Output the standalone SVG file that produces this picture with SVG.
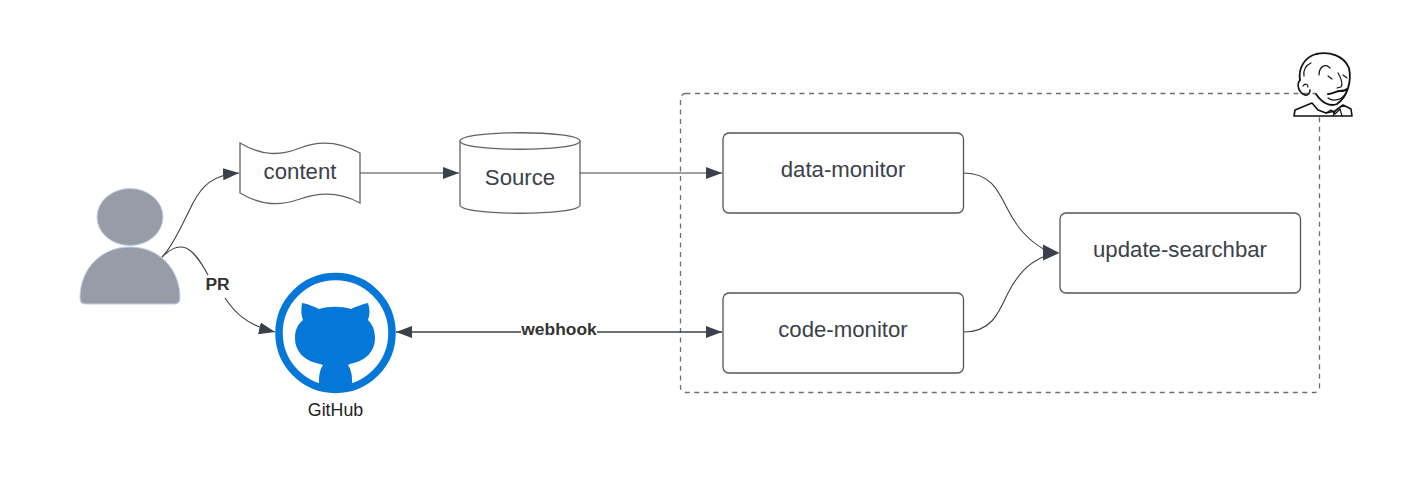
<svg xmlns="http://www.w3.org/2000/svg" width="1419" height="487" viewBox="0 0 1419 487">
<style>
.t{font-family:"Liberation Sans",Arial,sans-serif;fill:#3a414a;text-anchor:middle;font-size:22.2px}
.b{fill:#fff;stroke:#50555e;stroke-width:1.3}
.s{fill:#fff;stroke:#5f646c;stroke-width:1.3}
.c{fill:none;stroke:#3a414a;stroke-width:1.1}
.h{fill:#3a414a}
.j{fill:none;stroke:#111;stroke-width:1.2;stroke-linecap:round;stroke-linejoin:round}
.l{font-family:"Liberation Sans",Arial,sans-serif;font-weight:bold;fill:#333;text-anchor:middle;font-size:17.4px}
</style>
<defs>
<marker id="a" markerUnits="userSpaceOnUse" markerWidth="18" markerHeight="14" refX="16" refY="7" orient="auto-start-reverse"><path d="M0 1L16 7L0 13Z" fill="#3a414a"/></marker>
</defs>
<rect id="frame" x="680.5" y="93.5" width="639" height="299" rx="5" fill="none" stroke="#6b7078" stroke-width="1.3" stroke-dasharray="5 4.5"/>
<g id="connectors">
<path class="c" marker-end="url(#a)" d="M162 257C172 247 182 225 193 203C202 186 212 175 239 173"/>
<path class="c" d="M162 257C170 249 178 245 186 248C195 252 202 264 208 275"/>
<path class="c" marker-end="url(#a)" d="M225 298C233 310 245 325 275 332"/>
<path class="c" marker-end="url(#a)" d="M360 173H459"/>
<path class="c" marker-end="url(#a)" d="M580 173H722"/>
<path class="c" style="stroke-width:1.6" marker-start="url(#a)" marker-end="url(#a)" d="M396 332H722"/>
<path class="c" d="M964 173C990 173 998 190 1007 208C1017 228 1028 240 1045 250"/>
<path class="c" d="M964 332C990 332 998 315 1007 295C1017 275 1028 263 1045 256"/>
<path class="h" d="M1059.500 253L1043 244.500V260.500Z"/>
</g>
<g id="user">
<ellipse cx="130" cy="217" rx="33" ry="28.500" fill="#979ca6" stroke="#bcd0e8" stroke-width="1"/>
<path d="M80 298C80 270 100 247 130 247C160 247 180 270 180 298Q180 304 174 304H86Q80 304 80 298Z" fill="#979ca6" stroke="#bcd0e8" stroke-width="1"/>
</g>
<g id="content">
<path class="s" d="M240 143C262 156 280 156 300 148C320 140 340 142 360 153V203C340 192 320 192 300 199C280 206 262 206 240 193Z"/>
<text class="t" x="300" y="178.500">content</text>
</g>
<g id="source">
<path class="s" d="M460 141C460 130 580 130 580 141V205C580 216 460 216 460 205Z"/>
<path class="s" style="fill:none" d="M460 141C460 152 580 152 580 141"/>
<text class="t" x="520" y="185">Source</text>
</g>
<g id="data-monitor">
<rect class="b" x="723" y="133" width="240.500" height="80" rx="6"/>
<text class="t" x="843" y="177">data-monitor</text>
</g>
<g id="code-monitor">
<rect class="b" x="723" y="293" width="240.500" height="80" rx="6"/>
<text class="t" x="843" y="337">code-monitor</text>
</g>
<g id="update-searchbar">
<rect class="b" x="1060" y="213" width="240.500" height="80" rx="6"/>
<text class="t" x="1180" y="257">update-searchbar</text>
</g>
<g id="github">
<circle cx="335.500" cy="333" r="56.500" fill="#fff" stroke="#0577d8" stroke-width="7.500"/>
<path fill="#0577d8" d="M302 303C309 304 314 307 319 309C329 306 341 306 351 309C356 307 362 304 368 303C370 309 370 315 368 320C373 325 375 331 375 338C375 352 365 361 350 364L348 365C351 369 352 375 352 380V389Q335.500 393 319 389V380C319 375 320 369 323 365L320 364C305 361 295 352 295 338C295 331 297 325 303 320C301 315 301 309 302 303Z"/>
<text x="335.500" y="416" font-family="Liberation Sans,Arial,sans-serif" font-size="17.800" fill="#222" text-anchor="middle">GitHub</text>
</g>
<g id="jenkins">
<rect x="1316" y="88" width="10" height="27" fill="#fff"/>
<path class="j" style="fill:#fff;stroke-width:1.6" d="M1294 116L1295 110L1312 103L1318 110L1326 113L1335 111L1343 105L1351 109L1352 116Z"/>
<path class="j" style="stroke-width:1.8" d="M1300 80C1298 68 1305 57 1316 54C1330 51 1344 56 1349 68C1352 82 1347 97 1337 104C1330 107 1322 103 1316 94"/>
<path class="j" style="stroke-width:1.6" d="M1300 80C1296 85 1299 93 1305 95C1308 96 1310 93 1310 90"/>
<path class="j" d="M1303 86C1305 83 1308 84 1308 87M1304 76C1303 70 1306 65 1311 63"/>
<path class="j" d="M1319 75C1319 67 1325 63 1330 68"/>
<path class="j" d="M1328 76L1332 79M1343 75L1347 78M1338 73C1341 78 1343 84 1341 87L1337 88"/>
<path class="j" style="stroke-width:2" d="M1328 94C1333 94 1336 91 1340 91C1343 91 1345 91 1347 89"/>
<path class="j" d="M1328 98C1333 102 1342 100 1346 93"/>
<path class="j" d="M1326 113L1331 110L1335 114L1340 109L1342 116M1335 111L1333 116"/>
</g>
<text class="l" x="217.500" y="290">PR</text>
<rect x="521" y="324" width="76" height="16" fill="#fff"/>
<text class="l" x="559" y="335">webhook</text>
</svg>
